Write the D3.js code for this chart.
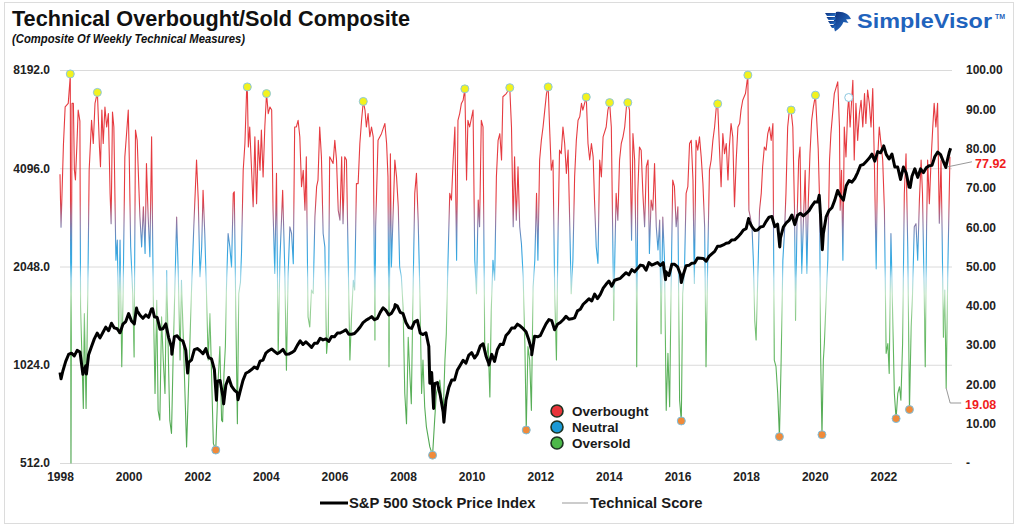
<!DOCTYPE html>
<html><head><meta charset="utf-8">
<script src="https://cdn.jsdelivr.net/npm/d3@7"></script>
<style>
body{margin:0;background:#fff;}
svg text{font-family:Arial,"Liberation Sans",sans-serif;}
</style></head><body>
<svg id="c" width="1024" height="529"></svg>
<script>
// ---------- DATA ----------
const yearTicks = [1998,2000,2002,2004,2006,2008,2010,2012,2014,2016,2018,2020,2022];
const leftTicks = [512,1024,2048,4096,8192];
const rightTicks = [0,10,20,30,40,50,60,70,80,90,100];
const legendItems = ["Overbought","Neutral","Oversold"];
const legendColors = ["#e8353a","#1b9ad6","#4cb849"];
const seriesNames = ["S&P 500 Stock Price Index","Technical Score"];

// S&P 500 month-end closes, Dec 1997 .. Nov 2023
const spxMonthEnd = [970,
980,1049,1101,1111,1090,1133,1120,957,1017,1098,1163,1229,
1280,1238,1286,1335,1302,1373,1328,1320,1283,1363,1389,1469,
1394,1366,1499,1452,1421,1455,1431,1518,1437,1429,1315,1320,
1366,1240,1160,1249,1256,1224,1211,1134,1041,1060,1139,1148,
1130,1107,1147,1077,1067,990,912,916,815,886,936,880,
856,841,848,917,964,975,990,1008,996,1051,1058,1112,
1131,1145,1126,1107,1121,1141,1102,1104,1115,1130,1174,1212,
1181,1204,1181,1157,1192,1191,1234,1220,1229,1207,1249,1248,
1280,1281,1295,1311,1270,1270,1277,1304,1336,1378,1401,1418,
1438,1407,1421,1482,1531,1503,1455,1474,1527,1549,1481,1468,
1379,1331,1323,1386,1400,1280,1267,1283,1166,969,896,903,
826,735,798,873,919,919,987,1021,1057,1036,1096,1115,
1074,1104,1169,1187,1089,1031,1102,1049,1141,1183,1181,1258,
1286,1327,1326,1364,1345,1321,1292,1219,1131,1253,1247,1258,
1312,1366,1408,1398,1310,1362,1379,1407,1441,1412,1416,1426,
1498,1515,1569,1598,1631,1606,1686,1633,1682,1757,1806,1848,
1783,1859,1872,1884,1924,1960,1931,2003,1972,2018,2068,2059,
1995,2105,2068,2086,2107,2063,2104,1972,1920,2079,2080,2044,
1940,1932,2060,2065,2097,2099,2174,2171,2168,2126,2199,2239,
2279,2364,2363,2384,2412,2423,2470,2472,2519,2575,2648,2674,
2824,2714,2641,2648,2705,2718,2816,2902,2914,2712,2760,2507,
2704,2784,2834,2946,2752,2942,2980,2926,2977,3038,3141,3231,
3226,2954,2585,2912,3044,3100,3271,3500,3363,3270,3622,3756,
3714,3811,3973,4181,4204,4298,4395,4523,4308,4605,4567,4766,
4516,4374,4530,4132,4132,3785,4130,3955,3586,3872,4080,3840,
4077,3970,4109,4169,4180,4450,4589,4508,4288,4194,4568];
// weekly extremes [decimal year, close]
const spxExtremes = [[1998.03,927],[1998.77,959],[2000.23,1527],[2000.70,1520],[2001.26,1103],
[2001.72,966],[2002.56,797],[2002.77,777],[2003.19,800],[2007.77,1565],[2008.78,899],[2008.89,752],
[2009.19,683],[2010.50,1022],[2011.75,1099],[2015.65,1867],[2016.11,1829],[2018.07,2873],
[2018.98,2351],[2020.13,3386],[2020.22,2305],[2022.01,4797],[2022.78,3577],[2023.82,4117],[2023.96,4719]];

// Technical score [decimal year, score]
const scoreData = [
[1998.00,73.5],[1998.03,60],[1998.10,81],[1998.15,90.6],[1998.24,91.5],[1998.29,97.4],[1998.30,99],[1998.32,0],[1998.35,91.5],[1998.39,91.5],[1998.42,74.5],[1998.45,72],[1998.49,80.4],[1998.53,89.8],[1998.58,87],[1998.60,39.7],[1998.68,13.9],[1998.71,38],[1998.76,13.9],[1998.81,43],[1998.85,74.5],[1998.92,87.2],[1998.97,81.3],[1999.02,91.5],[1999.09,94.3],[1999.15,80.4],[1999.18,75.4],[1999.22,89.8],[1999.26,81.3],[1999.31,90.6],[1999.36,85.5],[1999.41,88.9],[1999.46,68.6],[1999.49,60.9],[1999.53,89.3],[1999.57,85.5],[1999.63,51.6],[1999.67,56.7],[1999.71,33],[1999.75,56.7],[1999.80,24.5],[1999.84,43],[1999.89,77.9],[1999.94,83.8],[1999.99,89.8],
[2000.02,77.1],[2000.06,55],[2000.12,43],[2000.16,27],[2000.20,84.7],[2000.25,82.1],[2000.33,62.6],[2000.38,55],[2000.43,65.2],[2000.48,53.3],[2000.52,76.2],[2000.57,62.6],[2000.62,52.5],[2000.67,83],[2000.72,41.4],[2000.77,17.7],[2000.82,41.4],[2000.86,13.4],[2000.91,10.9],[2000.96,37.2],
[2001.01,26.2],[2001.06,17.7],[2001.11,49],[2001.16,26.2],[2001.20,10.9],[2001.25,7.5],[2001.30,27.9],[2001.40,62.6],[2001.45,47.4],[2001.50,26.2],[2001.54,46.5],[2001.59,32.9],[2001.69,4.1],[2001.74,17.7],[2001.83,43.1],[2001.90,60.1],[2001.98,77.1],
[2002.03,66.9],[2002.08,47.4],[2002.13,55],[2002.17,69.4],[2002.22,58.4],[2002.27,43.1],[2002.32,26.2],[2002.37,38],[2002.42,21.9],[2002.47,5],[2002.54,3.3],[2002.61,21.1],[2002.66,29.6],[2002.71,10.9],[2002.74,10.5],[2002.78,22.8],[2002.82,29.6],[2002.85,44],[2002.90,58.4],[2002.95,55],
[2003.00,49.9],[2003.05,68.6],[2003.08,69],[2003.13,34.6],[2003.17,10],[2003.21,43.1],[2003.26,46],[2003.29,53.3],[2003.34,74.5],[2003.39,81.3],[2003.44,94.9],[2003.46,95.7],[2003.49,80.4],[2003.53,85.5],[2003.58,75.4],[2003.63,65.2],[2003.68,83],[2003.73,66],[2003.78,82.1],[2003.83,74.5],[2003.87,84.7],[2003.92,72.8],[2003.97,85.5],
[2004.02,94],[2004.07,88.9],[2004.12,90.6],[2004.17,89.8],[2004.21,64.3],[2004.26,48.2],[2004.31,73.7],[2004.36,27.9],[2004.41,51.6],[2004.49,69.4],[2004.55,49.9],[2004.60,23.6],[2004.65,48.2],[2004.70,60.1],[2004.75,58.4],[2004.80,50.7],[2004.84,85.5],[2004.89,85.5],[2004.94,87.2],[2004.99,83],
[2005.04,70.3],[2005.09,74.5],[2005.14,64.3],[2005.18,77.9],[2005.23,37.2],[2005.28,34.6],[2005.33,44],[2005.38,43.1],[2005.43,62.6],[2005.48,70.3],[2005.52,72],[2005.57,85.5],[2005.62,77.9],[2005.67,58.4],[2005.72,55],[2005.77,27.9],[2005.82,33],[2005.86,77.9],[2005.91,77.1],[2005.96,76.2],
[2006.01,82.1],[2006.06,77.1],[2006.11,64.3],[2006.16,61.8],[2006.21,77.9],[2006.25,60.9],[2006.30,77.9],[2006.35,77.1],[2006.40,51.6],[2006.45,26.2],[2006.50,38],[2006.55,46.5],[2006.59,44],[2006.64,71.1],[2006.69,71.1],[2006.74,81.3],[2006.79,87.2],[2006.84,92],[2006.89,89.8],[2006.93,85.5],[2006.98,88.9],
[2007.03,83],[2007.08,85.5],[2007.13,83],[2007.18,31.3],[2007.20,60],[2007.27,82.1],[2007.37,83.8],[2007.47,86.4],[2007.52,81.3],[2007.56,72.8],[2007.59,24.5],[2007.63,78.7],[2007.66,49.9],[2007.76,77.1],[2007.81,72.8],[2007.86,65.2],[2007.90,49.9],[2007.95,47.4],
[2008.00,39.7],[2008.05,17.7],[2008.10,10],[2008.15,32],[2008.20,21.9],[2008.24,15.1],[2008.29,43.1],[2008.34,68.6],[2008.39,73.7],[2008.44,61.8],[2008.49,43.1],[2008.54,17.7],[2008.58,26.2],[2008.63,14.3],[2008.68,9.2],[2008.78,4.1],[2008.86,2],[2008.92,10.9],[2008.97,17.7],
[2009.07,21.1],[2009.17,12.6],[2009.22,26.2],[2009.26,32.9],[2009.31,51.6],[2009.36,68.6],[2009.41,66.9],[2009.46,77.1],[2009.51,85.5],[2009.56,51.6],[2009.60,87.2],[2009.65,88.9],[2009.70,91.5],[2009.75,92.3],[2009.80,95.2],[2009.85,72],[2009.89,87.2],[2009.94,85.5],
[2010.04,89.8],[2010.09,51.6],[2010.14,43.1],[2010.19,66.9],[2010.23,60.1],[2010.28,87.2],[2010.33,85.5],[2010.38,30],[2010.43,26.2],[2010.48,30.4],[2010.53,16.8],[2010.57,38.9],[2010.62,51.6],[2010.67,46.5],[2010.72,72.8],[2010.77,82.1],[2010.82,83.8],[2010.87,77.1],[2010.91,93.2],
[2011.01,94],[2011.11,95.5],[2011.16,85.5],[2011.21,60.1],[2011.25,77.9],[2011.30,61.8],[2011.35,75.4],[2011.40,60.1],[2011.45,55.8],[2011.50,47.4],[2011.55,30.4],[2011.59,8.4],[2011.64,29.6],[2011.69,26.2],[2011.74,13.4],[2011.79,44.8],[2011.84,51.6],[2011.89,68.6],[2011.93,51.6],[2011.98,77.1],
[2012.03,82.1],[2012.08,85.5],[2012.13,89.8],[2012.18,94],[2012.23,95.7],[2012.27,85.5],[2012.32,74.5],[2012.37,77.1],[2012.42,43.1],[2012.47,26.2],[2012.52,60.1],[2012.56,79.6],[2012.61,78.7],[2012.66,85.5],[2012.71,81.3],[2012.76,73.7],[2012.81,79.6],[2012.86,60.1],[2012.90,43.1],[2012.95,51.6],
[2013.00,72.8],[2013.05,82.1],[2013.10,87.2],[2013.15,88.1],[2013.20,91.5],[2013.24,89.8],[2013.29,91.5],[2013.34,93.1],[2013.39,81.3],[2013.44,77.1],[2013.49,81.3],[2013.54,77.9],[2013.58,66.9],[2013.63,55],[2013.68,50.8],[2013.73,77.1],[2013.78,72.8],[2013.83,83],[2013.92,85.5],[2013.97,89.8],
[2014.02,91.7],[2014.07,85.5],[2014.12,51.6],[2014.14,36.3],[2014.17,51.6],[2014.21,68.6],[2014.26,61.8],[2014.31,77.1],[2014.36,81.3],[2014.41,83],[2014.46,85.5],[2014.51,90.6],[2014.55,91.7],[2014.60,89.8],
[2014.62,77.9],[2014.66,56.7],[2014.70,83.8],[2014.75,77.1],[2014.80,47.4],[2014.81,24.5],[2014.84,68.6],[2014.89,80.4],[2014.94,79.6],[2014.99,68.6],
[2015.04,60.1],[2015.09,75.4],[2015.14,77.1],[2015.18,53.3],[2015.23,66.9],[2015.28,64.3],[2015.33,76.2],[2015.38,60.1],[2015.43,54.2],[2015.48,61.8],[2015.52,32.9],[2015.57,62.6],[2015.62,51.6],[2015.67,13.4],[2015.72,27.9],[2015.77,14.3],[2015.81,43.1],[2015.86,72],[2015.91,70.3],[2015.96,60.1],
[2016.01,65.2],[2016.06,16],[2016.11,10.7],[2016.15,43.1],[2016.20,48.2],[2016.25,68.6],[2016.30,70.3],[2016.35,81.3],[2016.40,82.1],[2016.45,72],[2016.49,45.7],[2016.54,82.1],[2016.59,79.6],[2016.64,83],[2016.69,77.9],[2016.74,71.1],[2016.79,60.1],[2016.83,24.5],[2016.88,51.6],[2016.93,74.5],[2016.98,77.1],
[2017.03,82.1],[2017.08,85.5],[2017.13,90.6],[2017.17,91.4],[2017.22,80.4],[2017.27,70.3],[2017.32,83.8],[2017.37,78.7],[2017.42,81.3],[2017.47,72],[2017.51,80.4],[2017.56,86.4],[2017.61,83],[2017.66,65.2],[2017.71,77.1],[2017.76,85.5],[2017.81,86.4],[2017.85,89.8],[2017.90,92.3],[2017.98,94],
[2018.05,98.7],[2018.08,64.3],[2018.12,62.6],[2018.17,60.1],[2018.21,51.6],[2018.25,36.3],[2018.29,31.3],[2018.34,47.4],[2018.39,64.3],[2018.44,68.6],[2018.48,75.4],[2018.53,80.4],[2018.58,79.6],[2018.63,83.8],[2018.68,85.5],[2018.73,82.1],[2018.78,86.4],[2018.82,26.2],[2018.87,24.5],[2018.92,17.7],[2018.97,6.7],
[2019.02,26.2],[2019.07,51.6],[2019.12,59.2],[2019.16,68.6],[2019.21,85.5],[2019.26,89.8],[2019.31,89.8],[2019.36,85.5],[2019.41,64.3],[2019.44,36.3],[2019.48,60.1],[2019.53,77.1],[2019.57,80.4],[2019.62,48.2],[2019.67,61.8],[2019.72,74.5],[2019.77,48.2],[2019.81,66],[2019.86,78.7],[2019.91,87.2],[2019.96,90.6],
[2020.02,93.6],[2020.10,80],[2020.14,66.9],[2020.17,27.9],[2020.21,7.2],[2020.25,26.2],[2020.28,30.4],[2020.33,41.4],[2020.38,51.6],[2020.43,77.1],[2020.47,83.8],[2020.52,88.9],[2020.57,94],[2020.67,97],[2020.72,85.5],[2020.74,64.3],[2020.78,74.5],[2020.82,51.6],[2020.86,85.5],[2020.91,77.9],[2020.96,89.8],[2020.99,93],
[2021.03,85.5],[2021.11,97.4],[2021.15,77.1],[2021.20,91.5],[2021.25,82.1],[2021.30,88.9],[2021.35,92.3],[2021.40,85.5],[2021.45,94],[2021.49,86.4],[2021.54,94.9],[2021.59,91.5],[2021.64,85.5],[2021.69,95.3],[2021.74,75.4],[2021.79,49.4],[2021.83,77.1],[2021.88,85.5],[2021.93,81.3],[2021.98,77.1],
[2022.03,64.3],[2022.08,27.9],[2022.13,30.4],[2022.17,22.8],[2022.22,58.4],[2022.27,38],[2022.32,17.7],[2022.37,11.3],[2022.42,17.7],[2022.47,19.4],[2022.51,16],[2022.56,30.4],[2022.61,68.6],[2022.66,78.7],[2022.71,55],[2022.76,13.6],[2022.81,34.6],[2022.85,43.1],[2022.90,60.1],[2022.95,60.9],
[2023.00,51.6],[2023.05,66.9],[2023.10,77.1],[2023.14,68.6],[2023.19,43.1],[2023.22,24.5],[2023.26,60.1],[2023.29,77.1],[2023.34,66],[2023.39,77.1],[2023.44,85.5],[2023.48,91.5],[2023.53,85.5],[2023.58,91.5],[2023.63,61],[2023.68,77],[2023.71,60],[2023.75,32],[2023.79,44],[2023.83,19.08],[2023.88,50],[2023.94,77.92]];

const overboughtDates = [1998.30,1999.09,2003.46,2004.02,2006.84,2009.80,2011.11,2012.23,2013.34,2014.02,2014.55,2017.17,2018.05,2019.31,2020.02];
const oversoldDates = [2002.54,2008.86,2011.59,2016.11,2018.97,2020.21,2022.37,2022.76];
const hollowDates = [2020.99];
const lastLabel = 77.92;
const lowLabel = 19.08;
const lowLabelDate = 2023.83;

// ---------- CHART ----------
const svg = d3.select("#c");
svg.append("rect").attr("x",4.5).attr("y",2.5).attr("width",1009).attr("height",521)
  .attr("fill","#fff").attr("stroke","#dcdcdc").attr("stroke-width",1);

const x = d3.scaleLinear().domain([1998,2024]).range([60,952]);
const yL = d3.scaleLog().base(2).domain([512,8192]).range([463,70]);
const yR = d3.scaleLinear().domain([0,100]).range([463,70]);

// gridlines
svg.append("g").selectAll("line").data(leftTicks).join("line")
  .attr("x1",60).attr("x2",952).attr("y1",d=>yL(d)+0.5).attr("y2",d=>yL(d)+0.5)
  .attr("stroke","#dadada").attr("stroke-width",1);

// axes
const fontAxis = g => g.selectAll("text").attr("font-weight","bold").attr("font-size","12px").attr("fill","#222")
  .attr("font-family","Arial, 'Liberation Sans', sans-serif");
const gl = svg.append("g").attr("transform","translate(60,0)")
  .call(d3.axisLeft(yL).tickValues(leftTicks).tickFormat(d3.format(".1f")).tickSize(0).tickPadding(10));
gl.select(".domain").remove(); fontAxis(gl);
const gr = svg.append("g").attr("transform","translate(952,0)")
  .call(d3.axisRight(yR).tickValues(rightTicks).tickFormat(d=>d===0?"-":d3.format(".2f")(d)).tickSize(0).tickPadding(14));
gr.select(".domain").remove(); fontAxis(gr);
const gb = svg.append("g").attr("transform","translate(0,463)")
  .call(d3.axisBottom(x).tickValues(yearTicks).tickFormat(d3.format("d")).tickSize(0).tickPadding(9));
gb.select(".domain").remove(); fontAxis(gb);

// gradient for score
const defs = svg.append("defs");
const grad = defs.append("linearGradient").attr("id","scoreGrad").attr("gradientUnits","userSpaceOnUse")
  .attr("x1",0).attr("x2",0).attr("y1",yR(100)).attr("y2",yR(0));
const stops = [[100,"#e3262c"],[67,"#e3262c"],[63,"#a0587e"],[59.5,"#6a78ae"],[55.5,"#2a93d4"],[51,"#1ea2e0"],[47,"#92d0e6"],[43,"#b4dfb8"],[38,"#86c884"],[31,"#52b050"],[0,"#3a9a3c"]];
grad.selectAll("stop").data(stops).join("stop")
  .attr("offset",d=>(100-d[0])/100).attr("stop-color",d=>d[1]);

// score line
svg.append("path").datum(scoreData)
  .attr("d",d3.line().x(d=>x(d[0])).y(d=>yR(d[1])))
  .attr("fill","none").attr("stroke","url(#scoreGrad)").attr("stroke-width",1.1)
  .attr("stroke-opacity",0.9).attr("stroke-linejoin","round");

// S&P line
const spxAll = spxMonthEnd.map((v,i)=>[1998 + i/12, v]).concat(spxExtremes).sort((a,b)=>a[0]-b[0]);
svg.append("path").datum(spxAll)
  .attr("d",d3.line().x(d=>x(d[0])).y(d=>yL(d[1])))
  .attr("fill","none").attr("stroke","#000").attr("stroke-width",3).attr("stroke-linejoin","round");

// markers
const valAt = t => scoreData.find(d=>d[0]===t)[1];
svg.append("g").selectAll("circle").data(overboughtDates).join("circle")
  .attr("cx",d=>x(d)).attr("cy",d=>yR(valAt(d))).attr("r",4)
  .attr("fill","#f2f21e").attr("stroke","#8cc8e0").attr("stroke-width",1);
svg.append("g").selectAll("circle").data(oversoldDates).join("circle")
  .attr("cx",d=>x(d)).attr("cy",d=>yR(valAt(d))).attr("r",4)
  .attr("fill","#f08a3a").attr("stroke","#7cc0e0").attr("stroke-width",1);
svg.append("g").selectAll("circle").data(hollowDates).join("circle")
  .attr("cx",d=>x(d)).attr("cy",d=>yR(valAt(d))).attr("r",4)
  .attr("fill","#fff").attr("stroke","#8cc8e0").attr("stroke-width",1);

// value callouts
const lastD = scoreData[scoreData.length-1][0];
svg.append("path").attr("d",`M${x(lastD)-2},${yR(lastLabel)+10}L${x(lastD)+22},${yR(lastLabel)+5}`)
  .attr("stroke","#999").attr("fill","none");
svg.append("text").attr("x",975).attr("y",yR(lastLabel)+7).attr("dy","0.35em").text(lastLabel.toFixed(2))
  .attr("fill","#f01c1c").attr("font-weight","bold").attr("font-size","12.5px");
svg.append("path").attr("d",`M${x(lowLabelDate)},${yR(lowLabel)}L${x(lowLabelDate)+4},${yR(lowLabel)+15}L${x(lowLabelDate)+15},${yR(lowLabel)+15}`)
  .attr("stroke","#999").attr("fill","none");
svg.append("text").attr("x",965).attr("y",yR(lowLabel)+17).attr("dy","0.35em").text(lowLabel.toFixed(2))
  .attr("fill","#f01c1c").attr("font-weight","bold").attr("font-size","12.5px");

// inner legend
const lg = svg.append("g");
legendItems.forEach((t,i)=>{
  const cy = 411 + i*16;
  lg.append("circle").attr("cx",557).attr("cy",cy).attr("r",6).attr("fill",legendColors[i])
    .attr("stroke","#1d3322").attr("stroke-width",1.6);
  lg.append("text").attr("x",572).attr("y",cy).attr("dy","0.36em").text(t)
    .attr("font-family","'Open Sans', sans-serif").attr("font-weight","bold").attr("font-size","13.5px").attr("fill","#1a1a1a");
});

// bottom legend
svg.append("line").attr("x1",320).attr("x2",348).attr("y1",503).attr("y2",503).attr("stroke","#000").attr("stroke-width",3);
svg.append("text").attr("x",349).attr("y",503).attr("dy","0.36em").text(seriesNames[0])
  .attr("font-weight","bold").attr("font-size","14.8px").attr("fill","#1a1a1a");
svg.append("line").attr("x1",562).attr("x2",588).attr("y1",503).attr("y2",503).attr("stroke","#999").attr("stroke-width",1);
svg.append("text").attr("x",590).attr("y",503).attr("dy","0.36em").text(seriesNames[1])
  .attr("font-weight","bold").attr("font-size","14.8px").attr("fill","#1a1a1a");

// titles
svg.append("text").attr("x",12).attr("y",26).text("Technical Overbought/Sold Composite")
  .attr("font-weight","bold").attr("font-size","21.5px").attr("fill","#111")
  .attr("textLength",398).attr("lengthAdjust","spacingAndGlyphs");
svg.append("text").attr("x",12).attr("y",43).text("(Composite Of Weekly Technical Measures)")
  .attr("font-weight","bold").attr("font-style","italic").attr("font-size","12.5px").attr("fill","#111")
  .attr("textLength",233).attr("lengthAdjust","spacingAndGlyphs");

// logo
const lgGrad = defs.append("linearGradient").attr("id","eagle").attr("x1",0).attr("x2",1).attr("y1",0).attr("y2",1);
lgGrad.append("stop").attr("offset",0).attr("stop-color","#0c2c78");
lgGrad.append("stop").attr("offset",1).attr("stop-color","#2b7fd8");
const logo = svg.append("g");
logo.append("path").attr("d","M836,12 C843,11 849,14 851,19 L846,19.5 L848.5,23 L843.5,22 C842,26 839,29 835,31.5 C833.5,27 833,22 834.5,18 Z").attr("fill","url(#eagle)");
[[825,13,10],[826.5,17,8.5],[828,21,7],[830,25,5]].forEach(([x0,y0,w])=>{
  logo.append("path").attr("d",`M${x0},${y0} L${x0+w+1},${y0} L${x0+w},${y0+3} L${x0+2},${y0+3} Z`).attr("fill","url(#eagle)");
});
logo.append("text").attr("x",857).attr("y",28).text("SimpleVisor")
  .attr("font-weight","bold").attr("font-size","21px").attr("fill","#1f63bd")
  .attr("textLength",135).attr("lengthAdjust","spacingAndGlyphs");
logo.append("text").attr("x",995).attr("y",19).text("TM")
  .attr("font-weight","bold").attr("font-size","7px").attr("fill","#1f63bd");
</script>
</body></html>
